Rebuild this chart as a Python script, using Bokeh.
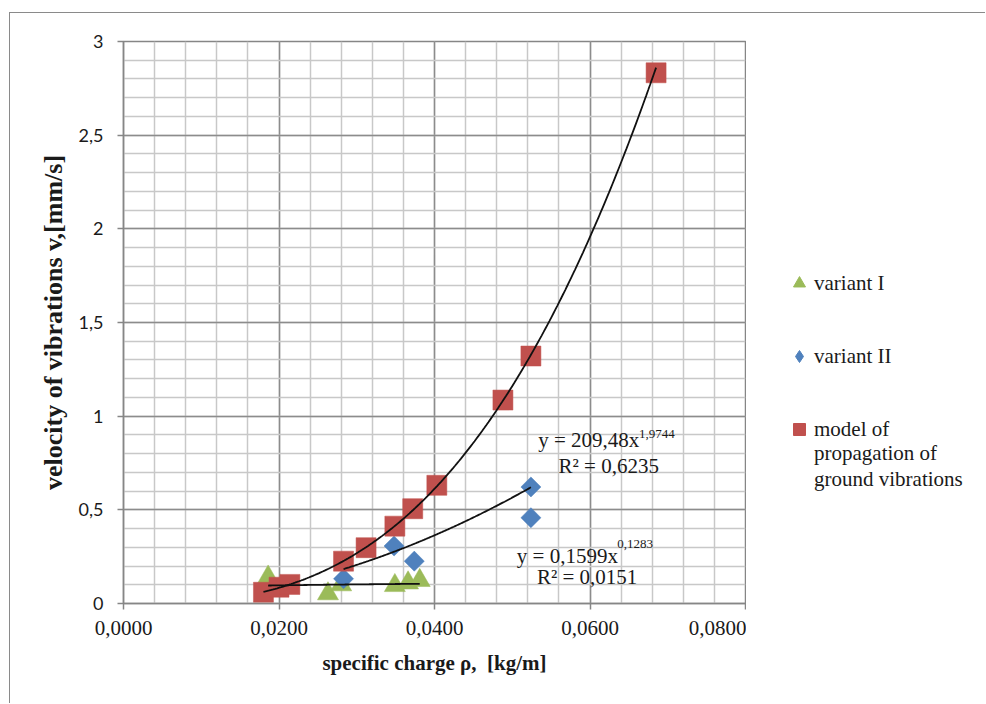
import numpy as np
from bokeh.plotting import figure
from bokeh.layouts import row
from bokeh.models import (ColumnDataSource, FixedTicker, Legend, LegendItem, Label, Range1d)
from bokeh.embed import file_html
from bokeh.resources import INLINE

# ---------------- data ----------------
v1_x = [0.0186, 0.0263, 0.0280, 0.0349, 0.0366, 0.0381]
v1_y = [0.141, 0.052, 0.100, 0.096, 0.110, 0.123]

v2_x = [0.0283, 0.0348, 0.0374, 0.0524, 0.0524]
v2_y = [0.132, 0.307, 0.226, 0.622, 0.458]

model_x = [0.0180, 0.0200, 0.0214, 0.0283, 0.0312, 0.0349, 0.0372, 0.0403, 0.0488, 0.0524, 0.0685]
model_y = [0.060, 0.087, 0.102, 0.226, 0.298, 0.413, 0.506, 0.631, 1.086, 1.321, 2.833]

fit_v1 = (0.1599, 0.1283)     # y = a * x^b  (variant I trend)
fit_v2 = (209.48, 1.9744)     # y = a * x^b  (variant II trend)

x_ticks = [0.0, 0.02, 0.04, 0.06, 0.08]
x_tick_labels = ["0,0000", "0,0200", "0,0400", "0,0600", "0,0800"]
y_ticks = [0.0, 0.5, 1.0, 1.5, 2.0, 2.5, 3.0]
y_tick_labels = ["0", "0,5", "1", "1,5", "2", "2,5", "3"]

series_names = ["variant I", "variant II"]
model_name_lines = ["model of", "propagation of", "ground vibrations"]
eq_v2 = ("y = 209,48x", "1,9744", "R² = 0,6235")
eq_v1 = ("y = 0,1599x", "0,1283", "R² = 0,0151")

x_title = "specific charge ρ,\u00a0 [kg/m]"
y_title = "velocity of vibrations v,[mm/s]"

# ---------------- styles ----------------
GREEN = "#9bbb59"
BLUE = "#4f81bd"
RED = "#c0504d"
SERIF = "Liberation Serif"
SANS = "Lato"
AXIS_GRAY = "#868686"
TXT = "#1a1a1a"
H = 690

p = figure(width=736, height=H, output_backend="svg", toolbar_location=None,
           x_range=Range1d(0, 0.08), y_range=Range1d(0, 3),
           min_border_left=113, min_border_right=1, min_border_top=28, min_border_bottom=100)
p.background_fill_color = "white"
p.border_fill_color = "white"
p.outline_line_color = AXIS_GRAY
p.outline_line_width = 1.5

x_minor = [i * 0.004 for i in range(21)]
y_minor = [i * 0.1 for i in range(31)]
p.xaxis.ticker = FixedTicker(ticks=x_ticks, minor_ticks=x_minor)
p.yaxis.ticker = FixedTicker(ticks=y_ticks, minor_ticks=y_minor)
p.xaxis.major_label_overrides = {t: l for t, l in zip(x_ticks, x_tick_labels)}
p.yaxis.major_label_overrides = {t: l for t, l in zip(y_ticks, y_tick_labels)}

for ax in (p.xaxis, p.yaxis):
    ax.axis_line_color = AXIS_GRAY
    ax.axis_line_width = 1.5
    ax.major_tick_line_color = AXIS_GRAY
    ax.major_tick_line_width = 1.5
    ax.major_tick_in = 0
    ax.major_tick_out = 6
    ax.minor_tick_line_color = None
    ax.axis_label_text_font = SERIF
    ax.axis_label_text_font_style = "bold"
    ax.axis_label_text_color = TXT
    ax.major_label_text_color = TXT

p.xaxis.major_label_text_font = SERIF
p.xaxis.major_label_text_font_size = "21px"
p.xaxis.major_label_standoff = 11
p.xaxis.axis_label = x_title
p.xaxis.axis_label_text_font_size = "21px"
p.xaxis.axis_label_standoff = 13

p.yaxis.major_label_text_font = SANS
p.yaxis.major_label_text_font_size = "18px"
p.yaxis.major_label_standoff = 14
p.yaxis.major_label_orientation = "horizontal"
p.yaxis.axis_label = y_title
p.yaxis.axis_label_text_font_size = "26px"
p.yaxis.axis_label_standoff = 8

for g in (p.xgrid, p.ygrid):
    g.grid_line_color = "#8c8c8c"
    g.grid_line_width = 1.5
    g.minor_grid_line_color = "#c8c8c8"
    g.minor_grid_line_width = 1.5
p.xgrid.ticker = p.xaxis.ticker
p.ygrid.ticker = p.yaxis.ticker

# ---------------- markers ----------------
src1 = ColumnDataSource(dict(x=v1_x, y=v1_y))
src2 = ColumnDataSource(dict(x=v2_x, y=v2_y))
src3 = ColumnDataSource(dict(x=model_x, y=model_y))

p.scatter("x", "y", source=src1, marker="triangle", size=21,
          fill_color=GREEN, line_color=GREEN, line_width=0.5)
p.scatter("x", "y", source=src2, marker="square", size=14.2, angle=np.pi / 4,
          fill_color=BLUE, line_color=BLUE, line_width=0.5)
p.scatter("x", "y", source=src3, marker="square", size=20,
          fill_color=RED, line_color=RED, line_width=0.5)

# ---------------- trend lines ----------------
def power_curve(a, b, xs):
    xx = np.linspace(min(xs), max(xs), 200)
    return xx, a * xx ** b

bm, lnam = np.polyfit(np.log(model_x), np.log(model_y), 1)
cx, cy = power_curve(np.exp(lnam), bm, model_x)
p.line(cx, cy, line_color="#111111", line_width=1.8)
cx, cy = power_curve(fit_v2[0], fit_v2[1], v2_x)
p.line(cx, cy, line_color="#111111", line_width=1.8)
cx, cy = power_curve(fit_v1[0], fit_v1[1], v1_x)
p.line(cx, cy, line_color="#111111", line_width=1.8)

# ---------------- equation labels ----------------
def eq_labels(texts, x_main, y_main, x_sup, y_sup, x_r2, y_r2):
    p.add_layout(Label(x=x_main, y=y_main, text=texts[0], text_font=SERIF,
                       text_font_size="21px", text_color=TXT, text_baseline="middle"))
    p.add_layout(Label(x=x_sup, y=y_sup, text=texts[1], text_font=SERIF,
                       text_font_size="13px", text_color=TXT, text_baseline="middle"))
    p.add_layout(Label(x=x_r2, y=y_r2, text=texts[2], text_font=SERIF,
                       text_font_size="21px", text_color=TXT, text_baseline="middle"))

eq_labels(eq_v2, 0.05333, 0.874, 0.06630, 0.906, 0.05595, 0.735)
eq_labels(eq_v1, 0.05059, 0.255, 0.06350, 0.319, 0.05317, 0.139)

# ---------------- legend area (right of the plot) ----------------
# the series are re-drawn here only as legend swatches; this panel's ranges lie
# far away from the data, so no marks appear in it
p2 = figure(width=239, height=H, output_backend="svg", toolbar_location=None,
            x_range=Range1d(100, 101), y_range=Range1d(100, 101),
            min_border_left=0, min_border_right=0, min_border_top=0, min_border_bottom=0)
p2.axis.visible = False
p2.grid.visible = False
p2.outline_line_color = None
p2.background_fill_color = "white"
p2.border_fill_color = "white"

lg1 = p2.scatter("x", "y", source=src1, marker="triangle",
                 fill_color=GREEN, line_color=GREEN)
lg2 = p2.scatter("x", "y", source=src2, marker="diamond",
                 fill_color=BLUE, line_color=BLUE)
lg3 = p2.scatter("x", "y", source=src3, marker="square",
                 fill_color=RED, line_color=RED)
lg_blank = p2.scatter("x", "y", source=src3, marker="square",
                      fill_alpha=0, line_alpha=0)

common = dict(glyph_width=30, label_standoff=-5, padding=0, margin=0,
              border_line_alpha=0, background_fill_alpha=0,
              label_text_font=SERIF, label_text_font_size="21px",
              label_text_color=TXT)

legend_a = Legend(items=[LegendItem(label=series_names[0], renderers=[lg1]),
                         LegendItem(label=series_names[1], renderers=[lg2])],
                  location=(38, 232), spacing=43, glyph_height=30, label_height=20, **common)
legend_b1 = Legend(items=[LegendItem(label=model_name_lines[0], renderers=[lg3])],
                   location=(38, 159), spacing=0, glyph_height=30, label_height=20, **common)
legend_b2 = Legend(items=[LegendItem(label=model_name_lines[1], renderers=[lg_blank]),
                          LegendItem(label=model_name_lines[2], renderers=[lg_blank])],
                   location=(38, 111), spacing=1, glyph_height=24, label_height=24, **common)
p2.add_layout(legend_a)
p2.add_layout(legend_b1)
p2.add_layout(legend_b2)

layout = row(p, p2, spacing=0)
layout.margin = (12, 0, 0, 9)
layout.styles = {"border-top": "1.5px solid #8a8a8a", "border-left": "1.5px solid #8a8a8a"}

open("out.html", "w").write(file_html(layout, INLINE))
